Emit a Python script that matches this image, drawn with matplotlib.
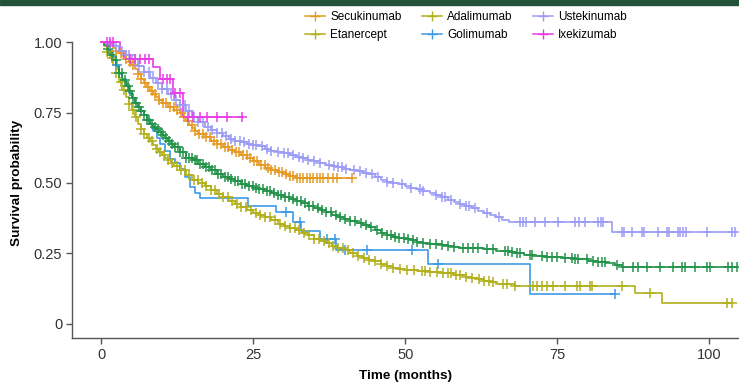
import numpy as np
import matplotlib
matplotlib.use("Agg")
import matplotlib.pyplot as plt
from matplotlib.lines import Line2D
from matplotlib.patches import Rectangle

plt.rcParams['font.family'] = ['Liberation Sans', 'DejaVu Sans']

# ---- data: step knots (time, survival) and censor times ----
gol_t = [0, 1, 1.5, 2, 2.5, 3, 3.5, 4, 4.5, 5, 5.5, 6, 6.5, 7, 7.6, 8.1, 8.6, 9.2, 9.7,
         10.5, 11.3, 12.2, 13, 13.8, 14.6, 15.4, 16.3, 24.2, 28.7, 31.6, 32.8, 36, 38.6, 53.8, 70.6]
gol_s = [1, 0.985, 0.965, 0.947, 0.92, 0.887, 0.87, 0.85, 0.82, 0.80, 0.785, 0.77, 0.755, 0.74,
         0.727, 0.709, 0.684, 0.66, 0.638, 0.615, 0.585, 0.57, 0.55, 0.52, 0.486, 0.465, 0.448,
         0.42, 0.397, 0.36, 0.33, 0.301, 0.262, 0.211, 0.105]
gol_c = [2.6, 30.4, 32.7, 37.2, 38.5, 40.1, 43.8, 51.2, 55.4, 84.5]

eta_t = [0, 0.5, 1, 1.5, 2, 2.5, 3, 3.5, 4, 4.5, 5, 5.5, 6, 6.5, 7, 7.5, 8, 8.5, 9, 9.5, 10,
         10.5, 11, 11.5, 12, 13, 14, 15, 16, 17, 18, 19, 20, 21, 22, 23, 24, 25, 26, 27, 28, 29,
         30, 31, 32, 33, 34, 35, 36, 37, 38, 39, 40, 41, 42, 43, 44, 45, 46, 47, 48, 49, 50, 52,
         54, 56, 58, 60, 61, 62, 63, 64, 65, 66, 68, 87.8, 92.3]
eta_s = [1, 0.985, 0.965, 0.945, 0.92, 0.89, 0.86, 0.83, 0.805, 0.78, 0.76, 0.735, 0.71, 0.69,
         0.675, 0.66, 0.65, 0.635, 0.62, 0.61, 0.60, 0.59, 0.58, 0.57, 0.56, 0.545, 0.53, 0.512,
         0.5, 0.488, 0.475, 0.462, 0.45, 0.435, 0.425, 0.415, 0.405, 0.395, 0.388, 0.378, 0.368,
         0.356, 0.346, 0.34, 0.333, 0.323, 0.315, 0.303, 0.295, 0.287, 0.278, 0.27, 0.262, 0.25,
         0.242, 0.235, 0.228, 0.222, 0.213, 0.205, 0.2, 0.195, 0.19, 0.186, 0.183, 0.179, 0.175,
         0.167, 0.162, 0.16, 0.153, 0.147, 0.143, 0.14, 0.135, 0.108, 0.074]
eta_c = [1.0, 1.8, 2.5, 3.2, 3.8, 4.5, 5.2, 5.8, 6.5, 7.1, 7.8, 8.4, 9.1, 9.7, 10.4, 11.0, 11.7,
         12.4, 13.1, 13.8, 14.5, 15.2, 15.9, 16.6, 17.3, 18.0, 18.7, 19.4, 20.1, 20.8, 21.5, 22.3,
         23.0, 23.8, 24.6, 25.4, 26.2, 27.0, 27.8, 28.6, 29.4, 30.2, 31.0, 31.8, 32.6, 33.4, 34.2,
         35.0, 35.8, 36.6, 37.4, 38.2, 39.0, 39.8, 40.6, 41.4, 42.3, 43.2, 44.1, 45.0, 46.0, 47.0,
         48.0, 49.2, 50.3, 51.5, 52.7, 53.2, 54.0, 55.3, 56.2, 57.0, 57.5, 58.3, 59.0, 60.0, 61.0,
         62.2, 63.0, 63.8, 64.5, 66.1, 66.8, 68.1, 71.1, 71.7, 72.5, 73.4, 74.3, 76.3, 78.3, 78.8,
         80.4, 80.8, 85.7, 90.3, 103.0, 103.8]

ada_t = [0, 0.5, 1, 1.5, 2, 2.5, 3, 3.5, 4, 4.5, 5, 5.5, 6, 6.5, 7, 7.5, 8, 8.5, 9, 9.5, 10,
         10.5, 11, 11.5, 12, 13, 14, 15, 16, 17, 18, 19, 20, 21, 22, 23, 24, 25, 26, 27, 28, 29,
         30, 31, 32, 33, 34, 35, 36, 37, 38, 39, 40, 41, 42, 43, 44, 45, 46, 47, 48, 49, 50, 51,
         52, 53, 54, 55, 56, 57, 58, 59, 61, 63, 65, 67, 68, 69.5, 71, 73, 76, 78, 80, 81.5, 83,
         84.5, 85.7]
ada_s = [1, 0.99, 0.975, 0.955, 0.935, 0.915, 0.89, 0.865, 0.845, 0.825, 0.80, 0.785, 0.77,
         0.755, 0.74, 0.725, 0.71, 0.70, 0.69, 0.68, 0.67, 0.66, 0.648, 0.638, 0.628, 0.61, 0.59,
         0.58, 0.567, 0.555, 0.545, 0.532, 0.522, 0.514, 0.507, 0.498, 0.49, 0.484, 0.479, 0.47,
         0.465, 0.456, 0.45, 0.443, 0.435, 0.43, 0.42, 0.412, 0.405, 0.396, 0.388, 0.38, 0.372,
         0.365, 0.358, 0.35, 0.343, 0.333, 0.322, 0.316, 0.31, 0.305, 0.3, 0.296, 0.292, 0.288,
         0.285, 0.282, 0.279, 0.276, 0.273, 0.27, 0.268, 0.265, 0.26, 0.255, 0.25, 0.245, 0.24,
         0.237, 0.233, 0.23, 0.225, 0.22, 0.215, 0.21, 0.202]
ada_c = [1.2, 1.8, 2.4, 3.0, 3.4, 3.9, 4.4, 4.8, 5.3, 5.7, 6.2, 6.6, 7.0, 7.5, 7.9, 8.4, 8.8,
         9.3, 9.8, 10.2, 10.7, 11.2, 11.6, 12.1, 12.6, 13.0, 13.5, 14.0, 14.4, 14.9, 15.4, 15.8,
         16.3, 16.8, 17.3, 17.8, 18.2, 18.7, 19.2, 19.7, 20.3, 20.8, 21.4, 22.0, 22.5, 23.1, 23.7,
         24.3, 24.9, 25.5, 26.0, 26.6, 27.2, 27.8, 28.4, 29.0, 29.6, 30.2, 30.9, 31.6, 32.2, 32.9,
         33.5, 34.2, 34.9, 35.6, 36.3, 37.0, 37.8, 38.6, 39.3, 40.1, 41.0, 41.8, 42.7, 43.5, 44.4,
         45.3, 46.2, 47.0, 47.6, 48.3, 49.0, 49.8, 50.5, 51.3, 52.0, 53.0, 54.0, 55.0, 56.0, 57.0,
         58.0, 59.5, 60.3, 61.2, 62.0, 63.4, 64.5, 66.4, 66.9, 67.6, 68.4, 68.9, 70.6, 70.9, 72.5,
         73.4, 74.2, 75.0, 76.3, 77.5, 78.0, 78.5, 79.9, 80.9, 81.7, 82.4, 82.9, 84.9, 85.9, 87.5,
         88.3, 89.8, 91.9, 94.1, 95.6, 96.1, 97.7, 99.7, 100.2, 103.1, 103.8, 104.6]

sec_t = [0, 1, 1.5, 2, 2.5, 3, 3.5, 4, 4.5, 5, 5.5, 6, 6.5, 7, 7.5, 8, 8.5, 9, 9.5, 10, 11, 12,
         13, 13.5, 14, 14.5, 15, 15.5, 16, 17, 18, 19, 20, 21, 22, 23, 24, 25, 26, 27, 28, 29, 30,
         31, 32]
sec_s = [1, 0.995, 0.99, 0.98, 0.97, 0.96, 0.95, 0.94, 0.93, 0.92, 0.905, 0.885, 0.87, 0.855,
         0.84, 0.825, 0.815, 0.805, 0.795, 0.785, 0.77, 0.76, 0.748, 0.735, 0.72, 0.705, 0.695,
         0.685, 0.675, 0.662, 0.65, 0.638, 0.627, 0.618, 0.61, 0.6, 0.59, 0.578, 0.565, 0.552,
         0.545, 0.54, 0.532, 0.524, 0.517]
sec_c = [2.5, 3.3, 4.0, 4.7, 5.3, 6.0, 6.6, 7.2, 7.7, 8.3, 8.9, 9.5, 10.1, 10.7, 11.3, 11.9,
         12.5, 13.1, 13.7, 14.3, 14.9, 15.5, 16.1, 16.7, 17.3, 17.9, 18.5, 19.1, 19.7, 20.3, 20.9,
         21.5, 22.1, 22.7, 23.3, 23.9, 24.5, 25.1, 25.7, 26.3, 26.9, 27.5, 28.0, 28.6, 29.2, 29.8,
         30.4, 31.0, 31.6, 32.2, 32.7, 33.2, 33.9, 34.4, 34.9, 35.5, 36.0, 36.5, 37.3, 38.2, 38.8,
         41.3]

ust_t = [0, 1, 2, 3, 4, 5, 6, 7, 8, 9, 10, 11, 12, 13, 14, 15, 16, 17, 18, 19, 20, 21, 22, 23,
         24, 25, 26, 27, 28, 29, 30, 31, 32, 33, 34, 35, 36, 37, 38, 39, 40, 41, 42, 43, 44, 45,
         46, 47, 48, 49, 50, 51, 52, 53, 54, 55, 56, 57, 58, 59, 60, 61, 62, 63, 64, 65, 66, 67,
         84]
ust_s = [1, 0.995, 0.985, 0.97, 0.955, 0.94, 0.915, 0.895, 0.872, 0.855, 0.835, 0.815, 0.795,
         0.775, 0.755, 0.735, 0.715, 0.7, 0.688, 0.676, 0.665, 0.657, 0.65, 0.645, 0.64, 0.636,
         0.63, 0.622, 0.615, 0.61, 0.605, 0.598, 0.592, 0.588, 0.583, 0.578, 0.57, 0.565, 0.56,
         0.555, 0.55, 0.546, 0.542, 0.537, 0.532, 0.52, 0.51, 0.505, 0.5, 0.496, 0.49, 0.484,
         0.478, 0.473, 0.466, 0.459, 0.45, 0.44, 0.432, 0.425, 0.418, 0.41, 0.402, 0.395, 0.386,
         0.378, 0.37, 0.362, 0.326]
ust_c = [1.5, 2.5, 3.5, 4.5, 5.5, 6.3, 7.0, 7.8, 8.5, 9.3, 10.0, 10.8, 11.5, 12.3, 13.0, 13.8,
         14.5, 15.3, 16.0, 16.8, 17.5, 18.3, 19.0, 19.8, 20.5, 21.3, 22.0, 22.8, 23.5, 24.3, 25.0,
         25.5, 26.5, 27.3, 28.0, 29.0, 30.0, 30.8, 31.5, 32.5, 33.2, 34.0, 35.0, 36.0, 37.5, 38.3,
         39.0, 39.6, 40.3, 41.5, 42.5, 43.5, 44.5, 45.5, 47.0, 48.0, 49.5, 51.0, 52.5, 53.0, 55.0,
         56.0, 56.5, 57.5, 59.0, 60.0, 60.5, 61.5, 63.5, 65.5, 68.9, 69.4, 69.9, 71.4, 73.0, 75.1,
         77.9, 78.6, 79.6, 81.7, 82.2, 82.6, 85.7, 86.0, 87.3, 89.0, 89.3, 91.6, 93.1, 93.4, 94.9,
         95.2, 95.7, 96.2, 99.7, 103.8, 104.3]

ixe_t = [0, 3.1, 3.8, 8.6, 9.7, 11.8, 13.5]
ixe_s = [1, 0.97, 0.94, 0.91, 0.87, 0.82, 0.734]
ixe_c = [0.9, 1.5, 2.0, 4.8, 5.6, 6.4, 7.2, 7.8, 10.2, 10.8, 11.3, 12.2, 13.0, 14.3, 15.1, 16.3,
         17.4, 19.1, 20.7, 23.2]

# draw order, colours
series = [
    ("Golimumab", gol_t, gol_s, gol_c, "#3d9be6"),
    ("Etanercept", eta_t, eta_s, eta_c, "#b2b01c"),
    ("Adalimumab", ada_t, ada_s, ada_c, "#23934a"),
    ("Secukinumab", sec_t, sec_s, sec_c, "#e69a25"),
    ("Ustekinumab", ust_t, ust_s, ust_c, "#9c9cf5"),
    ("Ixekizumab", ixe_t, ixe_s, ixe_c, "#e93ce6"),
]
legend_names = ["Secukinumab", "Etanercept", "Adalimumab", "Golimumab", "Ustekinumab", "Ixekizumab"]
legend_cols = ["#e69a25", "#b2b01c", "#b2b01c", "#3d9be6", "#9c9cf5", "#e93ce6"]


def step_value(t, s, x):
    t = np.asarray(t)
    s = np.asarray(s)
    idx = np.searchsorted(t, x, side='right') - 1
    return s[idx]


fig = plt.figure(figsize=(7.39, 3.82), dpi=100)
fig.patches.append(Rectangle((0, 1 - 4.5 / 382), 1, 4.5 / 382, transform=fig.transFigure,
                             color="#245238", zorder=5))

ax = fig.add_axes([72 / 739, 44 / 382, 667 / 739, 310 / 382])

for name, t, s, c, col in series:
    end = max(c[-1], t[-1])
    tt = list(t) + [end]
    ss = list(s) + [s[-1]]
    ax.step(tt, ss, where='post', color=col, lw=1.2, zorder=2)
    ax.plot(c, step_value(t, s, c), linestyle='none', marker='+', ms=6.5, mew=1.1,
            color=col, zorder=3)

ax.set_xlim(-4.8, 104.9)
ax.set_ylim(-0.05, 1.05)
ax.set_xticks([0, 25, 50, 75, 100])
ax.set_yticks([0, 0.25, 0.5, 0.75, 1.0])
ax.set_yticklabels(["0", "0.25", "0.50", "0.75", "1.00"])

for side in ['top', 'right']:
    ax.spines[side].set_visible(False)
for side in ['left', 'bottom']:
    ax.spines[side].set_color("#555555")
    ax.spines[side].set_linewidth(1.0)
ax.spines['left'].set_bounds(-0.05, 1.0)
ax.tick_params(axis='both', colors="#555555", length=4, width=1.0, labelsize=10.5,
               labelcolor="#333333", pad=3)

ax.set_xlabel("Time (months)", fontsize=9.7, fontweight='bold', labelpad=6)
ax.set_ylabel("Survival probability", fontsize=9.7, fontweight='bold', labelpad=8)

handles = [Line2D([], [], color=c, lw=1.1, marker='+', ms=7, mew=1.0) for c in legend_cols]
fig.legend(handles, legend_names, ncol=3, loc='upper left', bbox_to_anchor=(305 / 739, 1 - 11 / 382),
           frameon=False, fontsize=8.5, handlelength=1.7, handletextpad=0.45,
           columnspacing=1.7, labelspacing=0.5, borderaxespad=0, borderpad=0)

fig.savefig("out.png", dpi=100)
